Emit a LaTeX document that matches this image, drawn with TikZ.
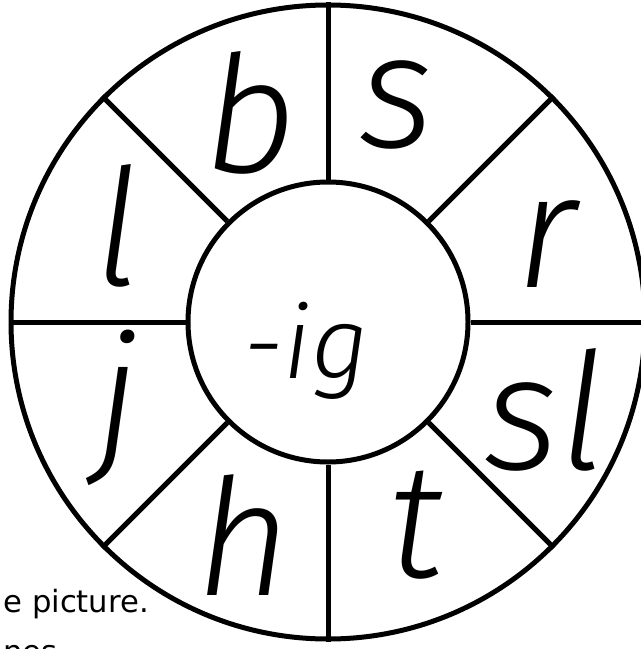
\documentclass[tikz,border=0pt]{standalone}
\usepackage{fontspec}
\setmainfont{Fira Sans}
\newfontfamily\hand{Fira Sans Light Italic}
\newfontfamily\comic{DejaVu Sans}
\begin{document}
\begin{tikzpicture}[x=0.75pt,y=-0.75pt,line width=3.75pt,
  ring/.style={circle,draw,inner sep=0pt},
  letter/.style={font=\hand\fontsize{122}{122}\selectfont,inner sep=0pt},
  hub/.style={font=\hand\fontsize{76}{76}\selectfont,inner sep=0pt},
  note/.style={font=\comic\fontsize{23}{28}\selectfont,inner sep=0pt}]
\useasboundingbox (0,0) rectangle (641,649);
\coordinate (c) at (328,322);
\node[ring,minimum size=475.5pt] (outer) at (c) {};
\node[ring,minimum size=210pt] (inner) at (c) {};
\foreach \a in {0,45,...,315}
  \draw (inner.\a) -- (outer.\a);
\node[letter] (b) at (250,113) {b};
\node[letter] (s) at (397,105) {s};
\node[letter] (l) at (117,226) {l};
\node[letter] (r) at (547,244) {r};
\node[letter] (j) at (117,408) {j};
\node[letter] (sl) at (545,410) {sl};
\node[letter] (h) at (244,535) {h};
\node[letter] (t) at (416,525) {t};
\node[hub] (ig) at (306,351) {-ig};
\node[note,anchor=base west] (n1) at (1,612) {e picture.};
\node[note,anchor=base west] (n2) at (1,662) {nes};
\end{tikzpicture}
\end{document}
